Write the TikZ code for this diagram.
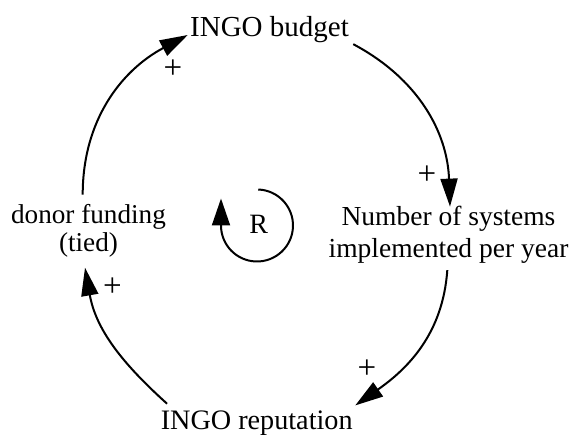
\documentclass[tikz,border=0pt]{standalone}
\usepackage{fontspec}
\setmainfont{Liberation Serif}
\usetikzlibrary{arrows.meta}
\begin{document}
\begin{tikzpicture}[x=1pt,y=1pt,
  link/.style={line width=2pt,-{Triangle[length=28pt,width=17pt]}},
  var/.style={inner sep=0pt,anchor=base,align=center},
  sign/.style={inner sep=0pt,font=\fontsize{33}{36}\selectfont}]
\useasboundingbox (0,0) rectangle (571,435);

% variables of the loop (base anchor = baseline of the last line)
\node[var,font=\fontsize{29}{32}\selectfont] (budget) at (269.5,398.3) {INGO budget};
\node[var,font=\fontsize{27.5}{32}\selectfont] (systems) at (448.5,177.3)
  {Number of systems\\implemented per year};
\node[var,font=\fontsize{28.2}{32}\selectfont] (reputation) at (256.7,5) {INGO reputation};
\node[var,font=\fontsize{27.2}{28.5}\selectfont] (donor) at (88.5,183.3)
  {donor funding\\(tied)};

% causal links
\draw[link] ([xshift=-5.8pt,yshift=9.3pt]donor.north)
  to[out=90,in=208] ([xshift=-2.2pt,yshift=1.7pt]budget.base west);
\draw[link] ([xshift=4.2pt,yshift=-1pt]budget.south east)
  to[out=-28,in=92] ([xshift=1.5pt,yshift=-0.5pt]systems.north);
\draw[link] ([xshift=-1.2pt,yshift=-6.3pt]systems.south)
  to[out=-94,in=35] ([xshift=2.4pt,yshift=5.7pt]reputation.north east);
\draw[link] ([xshift=6.5pt,yshift=7.4pt]reputation.north west)
  to[out=138,in=-80] ([xshift=-3.5pt,yshift=-10pt]donor.south);

% polarities
\node[sign] (s1) at (173,366) {+};
\node[sign] (s2) at (427,260) {+};
\node[sign] (s3) at (367,66) {+};
\node[sign] (s4) at (112.5,147.7) {+};

% reinforcing loop marker
\node[inner sep=0pt,anchor=base,font=\fontsize{28}{30}\selectfont] (R) at (258.8,201) {R};
\draw[line width=2pt,-{Triangle[length=27pt,width=18pt]}]
  (257,209.5) ++(88:36) arc[start angle=88,end angle=-180,radius=36] -- ++(0,27);
\end{tikzpicture}
\end{document}
